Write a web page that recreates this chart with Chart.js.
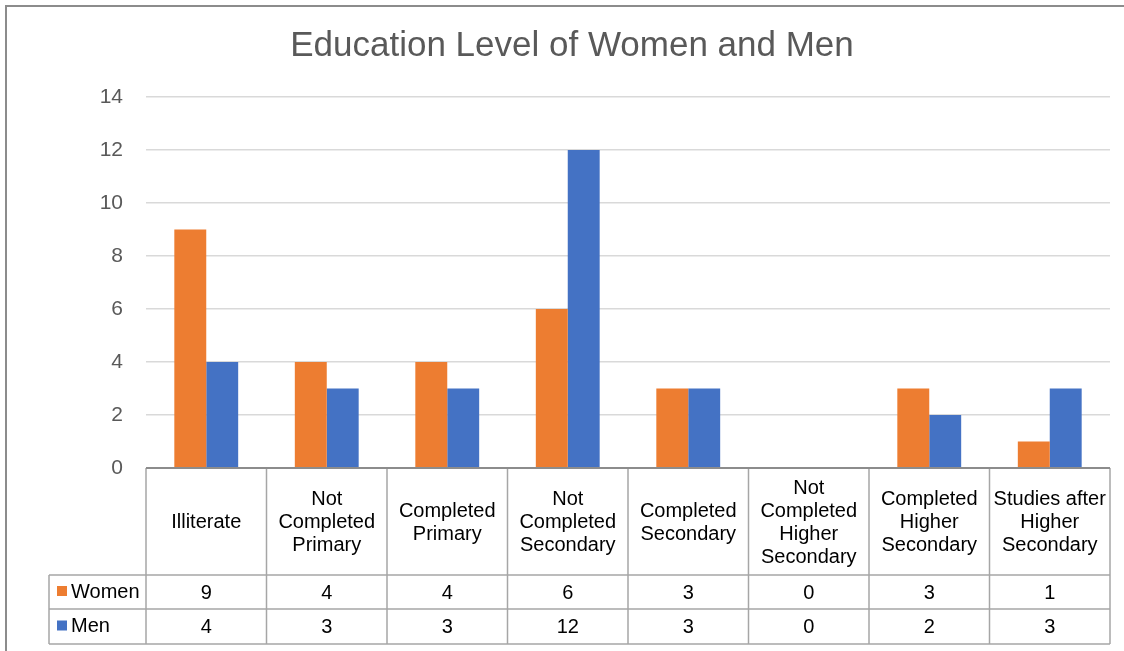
<!DOCTYPE html>
<html>
<head>
<meta charset="utf-8">
<script src="https://cdn.jsdelivr.net/npm/chart.js@4/dist/chart.umd.min.js"></script>
<style>
    html, body { margin: 0; padding: 0; background: #fff; }
    #wrap { position: relative; width: 1124px; height: 651px; }
    #frame { position: absolute; left: 5px; top: 5px; width: 1130px; height: 660px; border: 2px solid #8c8c8c; box-sizing: border-box; pointer-events: none; }
</style>
</head>
<body>
<div id="wrap">
    <canvas id="edu_graph" width="1124" height="651"></canvas>
    <div id="frame"></div>
</div>
<script>
const categories = [
    ["Illiterate"],
    ["Not", "Completed", "Primary"],
    ["Completed", "Primary"],
    ["Not", "Completed", "Secondary"],
    ["Completed", "Secondary"],
    ["Not", "Completed", "Higher", "Secondary"],
    ["Completed", "Higher", "Secondary"],
    ["Studies after", "Higher", "Secondary"]
]
const women = [9, 4, 4, 6, 3, 0, 3, 1]
const men = [4, 3, 3, 12, 3, 0, 2, 3]
const yTicks = [0, 2, 4, 6, 8, 10, 12, 14]

const ORANGE = "#ED7D31"
const BLUE = "#4472C4"
const FONT = "'Liberation Sans', Arial, sans-serif"

// data table drawn under the plot, columns follow the x scale
const dataTable = {
    id: "dataTable",
    afterDraw(chart){
        const ctx = chart.ctx
        const x = chart.scales.x
        const area = chart.chartArea
        const step = (area.right - area.left) / categories.length
        const top = area.bottom
        const headBottom = top + 107
        const row1 = headBottom + 34
        const row2 = row1 + 35
        const legLeft = 49

        ctx.save()
        ctx.strokeStyle = "#a6a6a6"
        ctx.lineWidth = 1.5
        ctx.beginPath()
        for(let i = 0; i <= categories.length; i++){
            let px = area.left + i * step
            ctx.moveTo(px, top)
            ctx.lineTo(px, row2)
        }
        ctx.moveTo(legLeft, headBottom); ctx.lineTo(area.right, headBottom)
        ctx.moveTo(legLeft, row1); ctx.lineTo(area.right, row1)
        ctx.moveTo(legLeft, row2); ctx.lineTo(area.right, row2)
        ctx.moveTo(legLeft, headBottom); ctx.lineTo(legLeft, row2)
        ctx.stroke()

        // axis line
        ctx.strokeStyle = "#8c8c8c"
        ctx.lineWidth = 2
        ctx.beginPath()
        ctx.moveTo(area.left, top)
        ctx.lineTo(area.right, top)
        ctx.stroke()

        ctx.fillStyle = "#000"
        ctx.font = "20px " + FONT
        ctx.textAlign = "center"
        ctx.textBaseline = "middle"
        const lh = 23
        const headMid = (top + headBottom) / 2 + 1
        categories.forEach((lines, i) => {
            let cx = x.getPixelForValue(i)
            let y0 = headMid - (lines.length - 1) * lh / 2
            lines.forEach((t, j) => ctx.fillText(t, cx, y0 + j * lh))
            ctx.fillText(String(women[i]), cx, (headBottom + row1) / 2 + 1)
            ctx.fillText(String(men[i]), cx, (row1 + row2) / 2 + 1)
        })

        const series = [["Women", ORANGE, (headBottom + row1) / 2], ["Men", BLUE, (row1 + row2) / 2]]
        series.forEach(s => {
            ctx.fillStyle = s[1]
            ctx.fillRect(57, s[2] - 6, 10, 10)
            ctx.fillStyle = "#000"
            ctx.textAlign = "left"
            ctx.fillText(s[0], 71, s[2])
        })
        ctx.restore()
    }
}

const charts_data = {
    labels: categories.map(c => c.join(" ")),
    datasets: [{
        label: "Women",
        data: women,
        backgroundColor: ORANGE,
        categoryPercentage: 0.53,
        barPercentage: 1.0
    }, {
        label: "Men",
        data: men,
        backgroundColor: BLUE,
        categoryPercentage: 0.53,
        barPercentage: 1.0
    }]
}

const config = {
    type: "bar",
    data: charts_data,
    options: {
        responsive: false,
        animation: false,
        layout: {
            padding: { left: 34, right: 14, top: 0, bottom: 183 }
        },
        scales: {
            x: {
                display: false
            },
            y: {
                min: 0,
                max: 14,
                afterFit(scale){ scale.width = 112 },
                afterBuildTicks(scale){ scale.ticks = yTicks.map(v => ({ value: v })) },
                border: { display: false },
                grid: {
                    color: "#d9d9d9",
                    lineWidth: 1.5,
                    drawTicks: false
                },
                ticks: {
                    padding: 23,
                    color: "#595959",
                    font: { family: FONT, size: 21 }
                }
            }
        },
        plugins: {
            legend: { display: false },
            tooltip: { enabled: false },
            title: {
                display: true,
                text: "Education Level of Women and Men",
                color: "#595959",
                font: { family: FONT, size: 35, weight: "normal" },
                padding: { top: 25, bottom: 30 }
            }
        }
    },
    plugins: [dataTable]
}

const chart = new Chart(document.getElementById("edu_graph"), config)
</script>
</body>
</html>
